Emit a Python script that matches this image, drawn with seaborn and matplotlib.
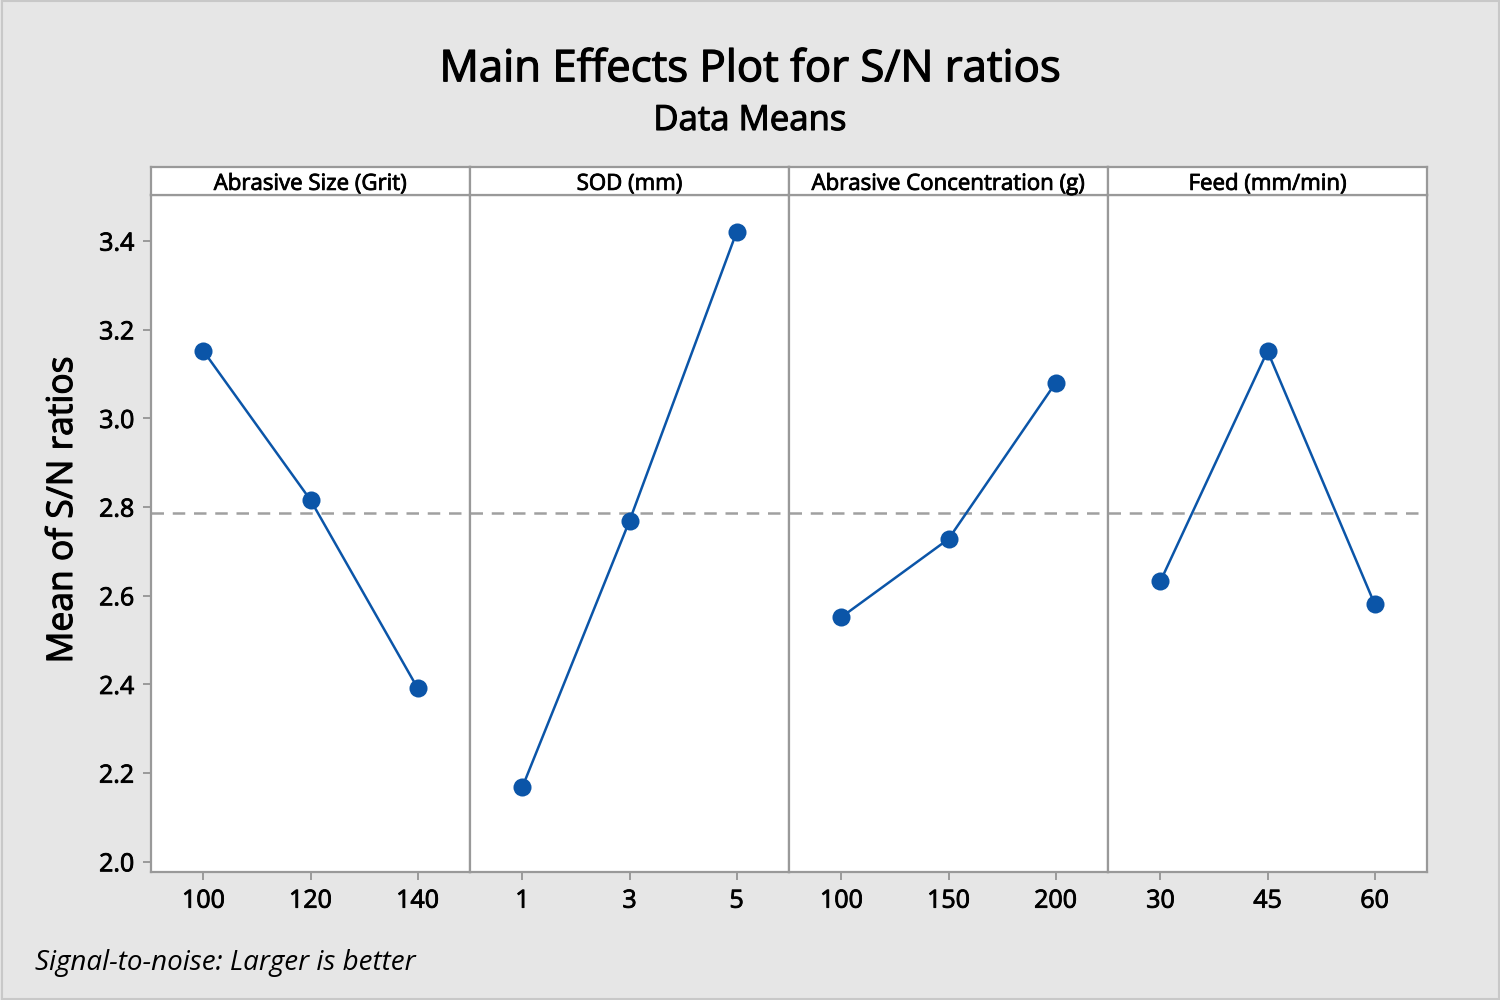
import matplotlib
matplotlib.use("Agg")
import matplotlib.pyplot as plt
import matplotlib.patheffects as pe
import seaborn as sns
import pandas as pd
import numpy as np
from matplotlib.patches import Rectangle

sns.set_theme(style="white")
plt.rcParams['font.family'] = ['Open Sans', 'DejaVu Sans']
plt.rcParams['text.color'] = 'black'
plt.rcParams['xtick.color'] = 'black'
plt.rcParams['ytick.color'] = 'black'

factors = ["Abrasive Size (Grit)", "SOD (mm)", "Abrasive Concentration (g)", "Feed (mm/min)"]
levels = [["100", "120", "140"], ["1", "3", "5"], ["100", "150", "200"], ["30", "45", "60"]]
sn_means = [[3.152, 2.816, 2.392], [2.169, 2.769, 3.420], [2.552, 2.728, 3.080], [2.633, 3.152, 2.582]]
overall_mean = 2.787
yticks = [2.0, 2.2, 2.4, 2.6, 2.8, 3.0, 3.2, 3.4]

rows = []
for f, lv, vals in zip(factors, levels, sn_means):
    for i, (l, v) in enumerate(zip(lv, vals)):
        rows.append({"factor": f, "level": l, "pos": i, "mean": v})
df = pd.DataFrame(rows)

bg = "#e6e6e6"
edge = "#999999"
blue = "#0b55a8"
bold_fx = [pe.withStroke(linewidth=0.6, foreground="black")]

fig = plt.figure(figsize=(15, 10), dpi=100, facecolor=bg)
fig.patches.append(Rectangle((0.001, 0.001), 0.998, 0.998, transform=fig.transFigure,
                             fill=False, edgecolor="#c8c8c8", linewidth=1.5))

left, right = 151 / 1500, 1427 / 1500
bottom, top = 1 - 872 / 1000, 1 - 195 / 1000
strip_top = 1 - 167 / 1000
w = (right - left) / 4

for k, f in enumerate(factors):
    ax = fig.add_axes([left + k * w, bottom, w, top - bottom], facecolor="white")
    sub = df[df["factor"] == f]
    ax.axhline(overall_mean, color="#a0a0a0", linestyle=(0, (5, 3.5)), linewidth=1.8, zorder=1)
    sns.lineplot(data=sub, x="pos", y="mean", ax=ax, color=blue, linewidth=1.8,
                 marker="o", markersize=13, markeredgewidth=0, zorder=3)
    ax.set_xlim(-0.49, 2.49)
    ax.set_ylim(1.977, 3.504)
    ax.set_xticks(range(3))
    labs = ax.set_xticklabels(levels[k], fontsize=18)
    for t in labs:
        t.set_path_effects(bold_fx)
    ax.set_xlabel("")
    ax.set_ylabel("")
    for s in ax.spines.values():
        s.set_color(edge)
        s.set_linewidth(1.6)
    ax.tick_params(axis="x", direction="out", length=6, width=1.4, color=edge, pad=6,
                   bottom=True, labelcolor="black")
    if k == 0:
        ax.set_yticks(yticks)
        labs = ax.set_yticklabels([f"{t:.1f}" for t in yticks], fontsize=18)
        for t in labs:
            t.set_path_effects(bold_fx)
        ax.tick_params(axis="y", direction="out", length=6, width=1.4, color=edge, pad=6,
                       left=True, labelcolor="black")
    else:
        ax.set_yticks([])
    sax = fig.add_axes([left + k * w, top, w, strip_top - top], facecolor="white")
    sax.set_xticks([])
    sax.set_yticks([])
    for s in sax.spines.values():
        s.set_color(edge)
        s.set_linewidth(1.6)
    sax.text(0.5, 0.38, f, ha="center", va="center", fontsize=16,
             transform=sax.transAxes, path_effects=bold_fx)

fig.text(0.5, 1 - 70 / 1000, "Main Effects Plot for S/N ratios", ha="center", va="center",
         fontsize=31.5, path_effects=[pe.withStroke(linewidth=0.9, foreground="black")])
fig.text(0.5, 1 - 121 / 1000, "Data Means", ha="center", va="center", fontsize=25,
         path_effects=[pe.withStroke(linewidth=0.8, foreground="black")])
fig.text(63 / 1500, 1 - 510 / 1000, "Mean of S/N ratios", ha="center", va="center",
         rotation=90, fontsize=25.5, path_effects=[pe.withStroke(linewidth=0.8, foreground="black")])
fig.text(35 / 1500, 1 - 963 / 1000, "Signal-to-noise: Larger is better", ha="left", va="center",
         fontsize=20, style="italic")

fig.savefig("out.png", dpi=100, facecolor=bg)
